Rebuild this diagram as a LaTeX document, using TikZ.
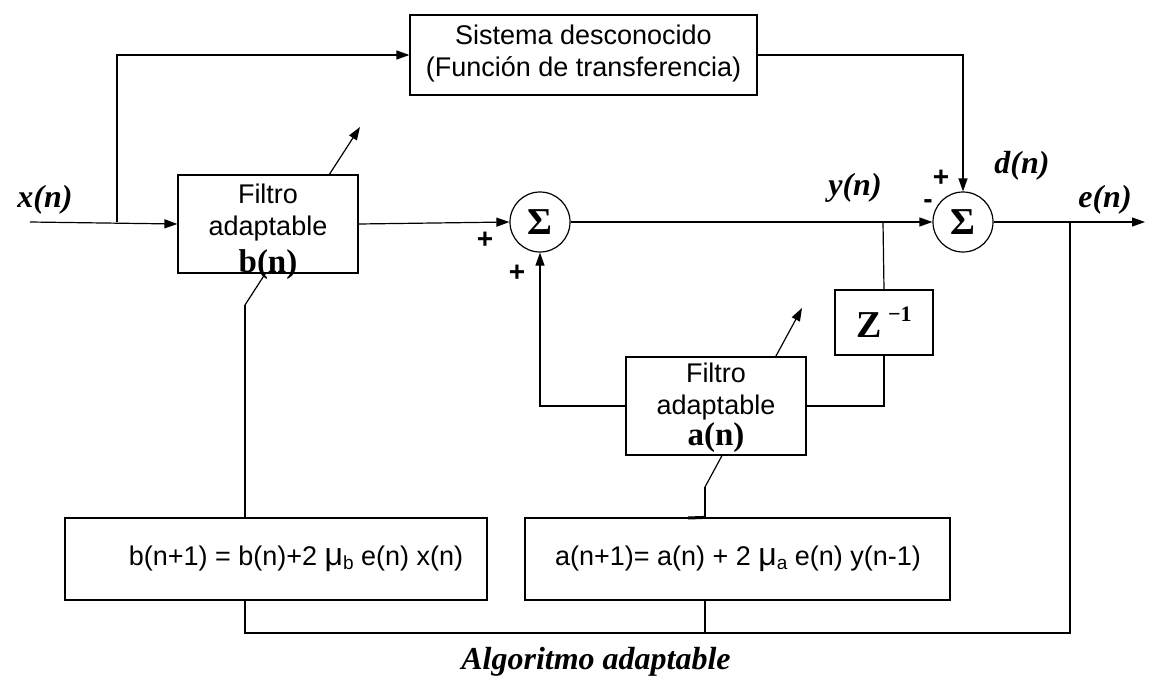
\documentclass[tikz,border=0pt]{standalone}
\usepackage{fontspec}
\setmainfont{Liberation Sans}
\newfontfamily\tnr{Liberation Serif}
\usetikzlibrary{arrows.meta}
\begin{document}
\begin{tikzpicture}[x=1pt,y=-1pt,
  line width=1.2pt,
  tip/.style={-{Triangle[length=13pt,width=9pt]}},
  box/.style={draw,fill=white,inner sep=0pt},
  sumnode/.style={draw,circle,fill=white,minimum size=60pt,inner sep=0pt,font=\tnr\bfseries\fontsize{38}{38}\selectfont},
  sans/.style={font=\fontsize{27}{32}\selectfont,align=center,inner sep=0pt},
  serb/.style={font=\tnr\bfseries\fontsize{33}{33}\selectfont,inner sep=0pt},
  sig/.style={font=\tnr\bfseries\itshape\fontsize{32}{32}\selectfont,inner sep=0pt},
  sgn/.style={font=\bfseries\fontsize{28}{28}\selectfont,inner sep=0pt}]
\useasboundingbox (0,0) rectangle (1152,688);

% coordinates
\coordinate (in) at (30,222);
\coordinate (br1) at (117,222);
\coordinate (br2) at (883,222);
\coordinate (br3) at (1070,222);
\coordinate (out) at (1145,222);
\coordinate (bot) at (0,633);
\coordinate (kb) at (245,305);
\coordinate (kbt) at (360,127);
\coordinate (ka) at (705,487);
\coordinate (kat) at (802,308);

% diagonal adaptation arrows (behind the boxes)
\draw[tip] (kb) -- (kbt);
\draw[tip] (ka) -- (kat);

% boxes
\node[box,minimum width=347pt,minimum height=80pt] (sys) at (583.5,55) {};
\node[sans] (syst) at (583.5,54) {Sistema desconocido\\(Función de transferencia)};

\node[box,minimum width=180pt,minimum height=98pt] (fb) at (268,224) {};
\node[sans] (fbt) at (268,213) {Filtro\\adaptable};
\node[serb] (fbl) at (268,265) {b(n)};

\node[sumnode] (s1) at (540,222) {Σ};
\node[sumnode] (s2) at (963,222) {Σ};

\node[box,minimum width=98pt,minimum height=65pt,font=\tnr\bfseries\fontsize{38}{38}\selectfont] (z) at (884,322.5) {Z\,\raisebox{0.42em}{\fontsize{22}{22}\selectfont −1}};

\node[box,minimum width=180pt,minimum height=98pt] (fa) at (716,406) {};
\node[sans] (fat) at (716,392) {Filtro\\adaptable};
\node[serb] (fal) at (716,438) {a(n)};

\node[box,minimum width=422pt,minimum height=82pt] (eqb) at (276,559) {};
\node[sans] (eqbt) at (296,559) {b(n+1) = b(n)+2 {\fontsize{32}{32}\selectfont μ}\raisebox{-0.15em}{\fontsize{19}{19}\selectfont b} e(n) x(n)};
\node[box,minimum width=425pt,minimum height=82pt] (eqa) at (737.5,559) {};
\node[sans] (eqat) at (738,559) {a(n+1)= a(n) + 2 {\fontsize{32}{32}\selectfont μ}\raisebox{-0.15em}{\fontsize{19}{19}\selectfont a} e(n) y(n-1)};

% connectors
\draw[tip] (in) -- (fb.west);
\draw[tip] (br1) |- (sys.west);
\draw[tip] (sys.east) -| (s2.north);
\draw[tip] (fb.east) -- (s1.west);
\draw[tip] (s1.east) -- (s2.west);
\draw[tip] (s2.east) -- (out);
\draw (br2) -- (z.north);
\draw (z.south) |- (fa.east);
\draw[tip] (fa.west) -| (s1.south);
\draw (br3) |- (kb |- bot) -- (kb |- eqb.south);
\draw (eqa.south -| ka) -- (ka |- bot);
\draw (kb) -- (kb |- eqb.north);
\draw (ka) -- (ka |- eqa.north);
\draw[line width=3pt] (688,518) -- (ka |- eqa.north);

% labels
\node[sig] (lx) at (45,200) {x(n)};
\node[sig] (ly) at (855,188) {y(n)};
\node[sig] (ld) at (1022,166) {d(n)};
\node[sig] (le) at (1105,200) {e(n)};
\node[sgn] (p1) at (485,240) {+};
\node[sgn] (p2) at (517,273) {+};
\node[sgn] (m3) at (928,204) {-};
\node[sgn] (p4) at (941,178) {+};
\node[sig] (alg) at (596,662) {Algoritmo adaptable};
\end{tikzpicture}
\end{document}
